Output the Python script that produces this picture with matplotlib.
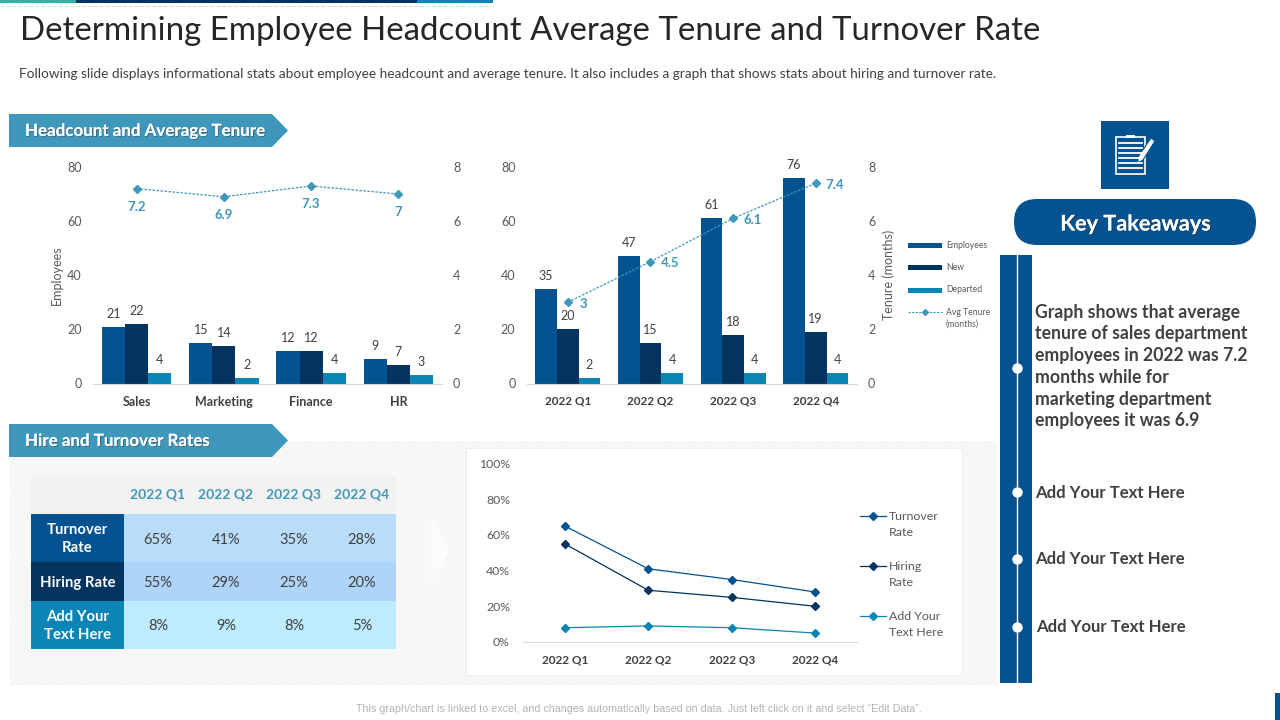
import numpy as np
import matplotlib
matplotlib.use('Agg')
import matplotlib.pyplot as plt
from matplotlib.patches import Rectangle, Polygon, FancyBboxPatch
import matplotlib.patheffects as pe

plt.rcParams['font.family'] = ['Lato', 'DejaVu Sans']

W, H = 1280, 720
BLUE = '#04528f'
NAVY = '#03335f'
CYAN = '#0a85b5'
TEAL = '#3f98bb'
GREY = '#404040'
TICK = '#595959'

departments = ['Sales', 'Marketing', 'Finance', 'HR']
dept_employees = [21, 15, 12, 9]
dept_new = [22, 14, 12, 7]
dept_departed = [4, 2, 4, 3]
dept_tenure = [7.2, 6.9, 7.3, 7]

quarters = ['2022 Q1', '2022 Q2', '2022 Q3', '2022 Q4']
q_employees = [35, 47, 61, 76]
q_new = [20, 15, 18, 19]
q_departed = [2, 4, 4, 4]
q_tenure = [3, 4.5, 6.1, 7.4]

turnover_rate = [65, 41, 35, 28]
hiring_rate = [55, 29, 25, 20]
other_rate = [8, 9, 8, 5]
rate_names = ['Turnover\nRate', 'Hiring Rate', 'Add Your\nText Here']

takeaway = ('Graph shows that average\ntenure of sales department\nemployees in 2022 was 7.2\n'
            'months while for\nmarketing department\nemployees it was 6.9')
other_points = ['Add Your Text Here', 'Add Your Text Here', 'Add Your Text Here']


def box_axes(left, top, right, bottom, **kw):
    # axes placed by pixel box, y counted from the top of the slide
    return fig.add_axes([left / W, 1 - bottom / H, (right - left) / W, (bottom - top) / H], **kw)


def bar_chart(box, names, a, b, c, line, bar_w, ylabel, ylabel2, label_off, name_size):
    ax = box_axes(*box)
    ax.patch.set_alpha(0)
    xs = range(len(names))
    for vals, col, shift in ((a, BLUE, -1), (b, NAVY, 0), (c, CYAN, 1)):
        pos = [x + shift * bar_w for x in xs]
        ax.bar(pos, vals, bar_w, color=col, zorder=2)
        for p, v in zip(pos, vals):
            ax.annotate(str(v), (p, v), xytext=(0, 5), textcoords='offset points', ha='center',
                        va='bottom', fontsize=9, color=GREY)
    ax.set_xlim(-0.5, len(names) - 0.5)
    ax.set_ylim(0, 80)
    ax.set_yticks([0, 20, 40, 60, 80])
    ax.set_xticks(list(xs))
    ax.set_xticklabels(names, fontsize=name_size, fontweight='bold', color=GREY)
    ax.tick_params(axis='x', length=0, pad=9)
    ax.tick_params(axis='y', length=0, pad=8, labelsize=9, labelcolor=TICK)
    for s in ('top', 'left', 'right'):
        ax.spines[s].set_visible(False)
    ax.spines['bottom'].set_color('#d9d9d9')
    if ylabel:
        ax.set_ylabel(ylabel, fontsize=9, color=TICK, labelpad=3)

    ax2 = ax.twinx()
    ax2.set_ylim(0, 8)
    ax2.set_yticks([0, 2, 4, 6, 8])
    ax2.tick_params(axis='y', length=0, pad=8, labelsize=9, labelcolor=TICK)
    for s in ax2.spines.values():
        s.set_visible(False)
    ax2.plot(list(xs), line, color=TEAL, lw=0.9, ls=(0, (2, 1.2)), marker='D', ms=3.6, zorder=4)
    for x, v, off in zip(xs, line, label_off):
        ax2.annotate(str(v), (x, v), xytext=off, textcoords='offset points', ha='center', va='center',
                     fontsize=9.5, fontweight='bold', color=TEAL)
    if ylabel2:
        ax2.set_ylabel(ylabel2, fontsize=9, color=TICK, labelpad=5)
    return ax


fig = plt.figure(figsize=(W / 100, H / 100), dpi=100)

# background layer in pixel coordinates
bg = fig.add_axes([0, 0, 1, 1])
bg.axis('off')

bg.add_patch(Rectangle((0, 0), 76, 3, color='#2fb3a3', lw=0))
bg.add_patch(Rectangle((76, 0), 341, 3, color=NAVY, lw=0))
bg.add_patch(Rectangle((417, 0), 76, 3, color=CYAN, lw=0))
bg.plot([0, 493], [6, 6], color='#d9d9d9', lw=0.7, ls=(0, (4, 2)))
bg.add_patch(Rectangle((1275, 693), 5, 27, color=BLUE, lw=0))

bg.text(20, 31, 'Determining Employee Headcount Average Tenure and Turnover Rate', fontsize=23.8,
        color='#262626', va='center', ha='left')
bg.text(19, 73.5, 'Following slide displays informational stats about employee headcount and average tenure. '
        'It also includes a graph that shows stats about hiring and turnover rate.',
        fontsize=9.77, color=GREY, va='center', ha='left')

# lower panel
bg.add_patch(Rectangle((10, 441), 986, 243, fc='#f7f7f7', ec='#ebebeb', lw=0.6, ls=':'))
bg.add_patch(Rectangle((466, 448), 496, 227, fc='white', ec='#ececec', lw=0.6))

# faint chevron between table and line chart, fading out to the left
fade = np.ones((2, 60, 4))
fade[:, :, 3] = np.linspace(0, 1, 60) ** 1.2
img = bg.imshow(fade, extent=(420, 449, 583, 517), aspect='auto', zorder=2)
img.set_clip_path(Polygon([(420, 517), (433, 517), (449, 550), (433, 583), (420, 583)],
                          transform=bg.transData))

shadow = [pe.withSimplePatchShadow(offset=(0.6, -0.6), shadow_rgbFace='#222222', alpha=0.5)]
for top, label in ((114, 'Headcount and Average Tenure'), (424, 'Hire and Turnover Rates')):
    bg.add_patch(Polygon([(9, top), (272, top), (288, top + 16.5), (272, top + 33), (9, top + 33)], fc=TEAL, lw=0))
    t = bg.text(25, top + 17, label, fontsize=12.2, fontweight='bold', color='white', va='center', ha='left')
    t.set_path_effects(shadow + [pe.Normal()])

# table
col_x = [124, 192, 260, 328]
row_y = [(514, 562), (562, 601), (601, 649)]
row_fill = ['#b9dcfb', '#aed4fa', '#bdecfe']
name_fill = [BLUE, NAVY, CYAN]
rate_rows = [turnover_rate, hiring_rate, other_rate]
bg.add_patch(Rectangle((31, 475), 365, 39, fc='#f2f2f2', lw=0))
for q, x in zip(quarters, col_x):
    bg.text(x + 34, 495, q, fontsize=10, fontweight='bold', color=TEAL, ha='center', va='center')
for (y0, y1), name, vals, rf, nf in zip(row_y, rate_names, rate_rows, row_fill, name_fill):
    bg.add_patch(Rectangle((31, y0), 93, y1 - y0, fc=nf, lw=0))
    bg.add_patch(Rectangle((124, y0), 272, y1 - y0, fc=rf, lw=0))
    bg.text(77.5, (y0 + y1) / 2 + 1, name, fontsize=10.7, fontweight='bold', color='white', ha='center',
            va='center', linespacing=1.45)
    for v, x in zip(vals, col_x):
        bg.text(x + 34, (y0 + y1) / 2 + 1.5, '%d%%' % v, fontsize=10.5, color=GREY, ha='center', va='center')

# right column
bg.add_patch(Rectangle((1101, 121), 68, 68, fc=BLUE, lw=0))
bg.add_patch(Rectangle((1116, 137), 29, 37, fc='none', ec='white', lw=1.2))
bg.add_patch(Rectangle((1126, 135), 9, 3, fc='white', lw=0))
for y in (143, 148, 153, 158, 163, 168):
    bg.plot([1119, 1142], [y, y], color='white', lw=1.3)
bg.add_patch(Polygon([(1151, 138), (1155, 141), (1143, 160), (1138, 163), (1138, 157)], fc='white', ec=BLUE, lw=0.8))

bg.add_patch(FancyBboxPatch((1014, 199), 242, 46, boxstyle='round,pad=0,rounding_size=23', fc=BLUE, lw=0))
t = bg.text(1135.5, 224, 'Key Takeaways', fontsize=15.6, fontweight='bold', color='white', ha='center', va='center')
t.set_path_effects(shadow + [pe.Normal()])

bg.add_patch(Rectangle((1000, 255), 32, 428, fc=BLUE, lw=0))
bg.plot([1016.5, 1016.5], [255, 683], color='white', lw=1)
bg.scatter([1016.5] * 4, [368, 492, 559, 627], s=42, color='white', zorder=3)
bg.text(1035, 366.5, takeaway, fontsize=12.7, fontweight='bold', color=GREY, va='center', ha='left', linespacing=1.34)
for y, x, txt in zip([492.5, 559.5, 626.5], [1035, 1035, 1036], other_points):
    bg.text(x, y, txt, fontsize=12.05, fontweight='bold', color=GREY, va='center', ha='left')

bg.text(639, 709.5, 'This graph/chart is linked to excel, and changes automatically based on data. '
        'Just left click on it and select \u201cEdit Data\u201d.', fontsize=7.64, color='#b3b3b3',
        family=['Liberation Sans'], ha='center', va='center')

# bar charts
bar_chart((93, 167, 442, 383.5), departments, dept_employees, dept_new, dept_departed, dept_tenure,
          0.265, 'Employees', None, [(0, -13), (0, -13), (0, -13), (0, -13)], 9)
bar_chart((526.5, 167, 857, 383.5), quarters, q_employees, q_new, q_departed, q_tenure,
          0.262, None, 'Tenure (months)', [(11, -1), (14, -1), (14, -1), (13.5, -1)], 8.5)

# legend of the quarter chart
leg_y = [245, 267, 290]
for y, col, name in zip(leg_y, (BLUE, NAVY, CYAN), ('Employees', 'New', 'Departed')):
    bg.add_patch(Rectangle((908, y - 2.5), 34, 5, fc=col, lw=0))
    bg.text(946, y, name, fontsize=6.2, color=TICK, va='center', ha='left')
bg.plot([908, 942], [312, 312], color=TEAL, lw=0.8, ls=(0, (2, 1.2)))
bg.plot([925], [312], color=TEAL, marker='D', ms=3)
bg.text(946, 318, 'Avg Tenure\n(months)', fontsize=6.2, color=TICK, va='center', ha='left', linespacing=1.4)

# rate line chart
lx = box_axes(523, 463.5, 857, 642)
lx.patch.set_alpha(0)
for vals, col in ((turnover_rate, BLUE), (hiring_rate, NAVY), (other_rate, CYAN)):
    lx.plot(range(len(quarters)), vals, color=col, lw=0.9, marker='D', ms=4)
lx.set_xlim(-0.5, 3.5)
lx.set_ylim(0, 100)
lx.set_yticks([0, 20, 40, 60, 80, 100])
lx.set_yticklabels(['%d%%' % v for v in [0, 20, 40, 60, 80, 100]])
lx.set_xticks(range(len(quarters)))
lx.set_xticklabels(quarters, fontsize=8.5, fontweight='bold', color=GREY)
lx.tick_params(axis='x', length=0, pad=9)
lx.tick_params(axis='y', length=0, pad=9.4, labelsize=8.8, labelcolor=TICK)
for s in ('top', 'left', 'right'):
    lx.spines[s].set_visible(False)
lx.spines['bottom'].set_color('#d9d9d9')

for y, col, name in zip([516, 566, 616], (BLUE, NAVY, CYAN), ('Turnover\nRate', 'Hiring\nRate', 'Add Your\nText Here')):
    bg.plot([860, 886], [y, y], color=col, lw=0.9)
    bg.plot([873], [y], color=col, marker='D', ms=4)
    bg.text(889, y + 8.5, name, fontsize=8.9, color=TICK, va='center', ha='left', linespacing=1.55)

bg.set_xlim(0, W)
bg.set_ylim(H, 0)

fig.savefig('out.png', dpi=100)
